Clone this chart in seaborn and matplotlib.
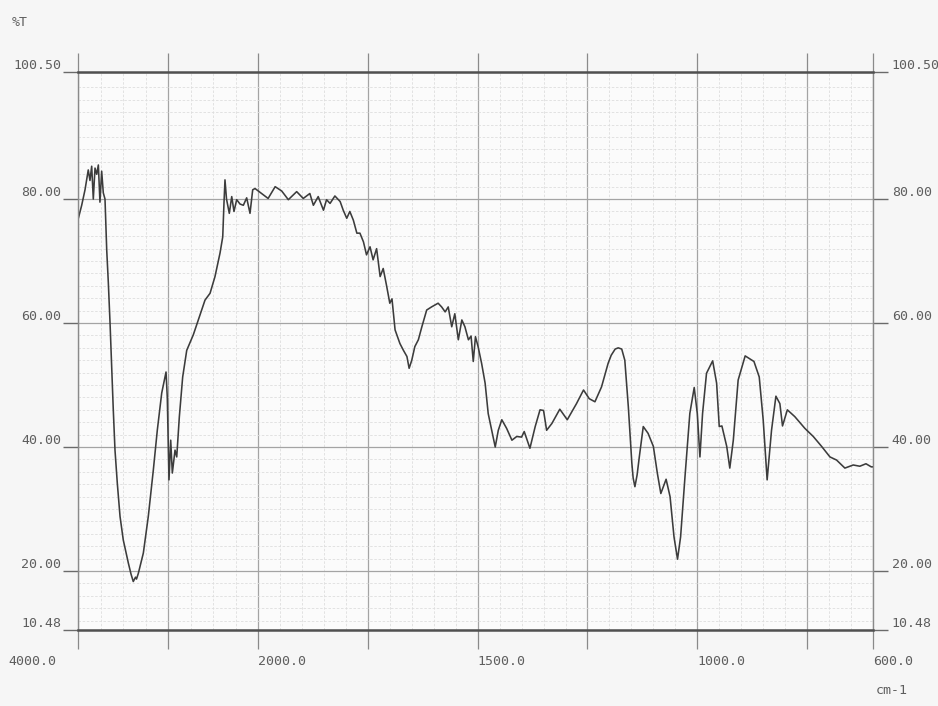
import numpy as np
import pandas as pd
import matplotlib
matplotlib.use("Agg")
import matplotlib.pyplot as plt
import matplotlib.transforms as mtransforms
import seaborn as sns

# IR transmittance spectrum: wavenumber (cm-1) and %T
wavenumber = [
    3996, 3959, 3922, 3886, 3867, 3848, 3830, 3811, 3792, 3774, 3756, 3737, 3719, 3700,
    3681, 3663, 3644, 3626, 3608, 3589, 3563, 3533, 3497, 3441, 3411, 3386, 3361, 3350,
    3330, 3274, 3219, 3163, 3119, 3070, 3022, 3008, 2989, 2970, 2952, 2922, 2903, 2874,
    2837, 2792, 2719, 2663, 2589, 2533, 2478, 2422, 2392, 2378, 2367, 2350, 2319, 2292,
    2267, 2237, 2200, 2163, 2126, 2089, 2059, 2033,
    1992, 1977, 1961, 1946, 1931, 1912, 1897, 1882, 1874, 1863, 1851, 1844, 1836, 1825,
    1813, 1806, 1798, 1791, 1783, 1775, 1768, 1760, 1753, 1745, 1738, 1730, 1722, 1715,
    1707, 1700, 1695, 1688, 1677, 1669, 1661, 1656, 1650, 1643, 1635, 1627, 1616, 1605,
    1590, 1582, 1574, 1567, 1559, 1552, 1544, 1536, 1529, 1521, 1515, 1510, 1505, 1499,
    1491, 1483, 1476, 1468, 1460, 1453, 1445, 1434, 1422, 1411, 1400, 1394, 1381, 1369,
    1358, 1350, 1343, 1331, 1313, 1296, 1275, 1259, 1246, 1233, 1218, 1203, 1196, 1187,
    1180, 1172, 1165, 1157, 1149, 1146, 1142, 1137, 1132, 1123, 1112, 1100, 1091, 1083,
    1071, 1062, 1053, 1045, 1038, 1028, 1017, 1007, 1000, 994, 988, 979, 965, 956, 950,
    944, 933, 926, 918, 907, 891, 871, 859, 850, 841, 831, 821, 812, 806, 795, 778, 755,
    736, 717, 698, 683, 664, 645, 630, 616, 604, 600,
]
transmittance = [
    76.9, 79.0, 81.5, 84.7, 83.0, 85.3, 80.0, 85.0, 84.0, 85.5, 79.5, 84.5, 81.0, 80.0,
    71.8, 66.5, 60.0, 53.0, 46.0, 39.5, 34.1, 28.8, 25.0, 21.3, 19.5, 18.3, 19.0, 18.7,
    19.6, 22.9, 28.8, 36.3, 42.7, 48.7, 52.1, 48.0, 34.7, 41.1, 35.8, 39.5, 38.4, 44.9,
    51.3, 55.6, 58.1, 60.5, 63.7, 64.8, 67.5, 71.3, 73.9, 79.4, 83.1, 80.0, 77.7, 80.4,
    78.0, 79.9, 79.2, 79.0, 80.2, 77.7, 81.5, 81.7,
    80.9, 80.1, 82.0, 81.3, 79.9, 81.2, 80.1, 80.9, 79.0, 80.4, 78.2, 79.9, 79.3, 80.5,
    79.6, 78.2, 76.9, 78.0, 76.6, 74.5, 74.5, 73.1, 71.0, 72.3, 70.2, 72.0, 67.5, 68.8,
    65.9, 63.2, 63.9, 58.9, 56.7, 55.6, 54.6, 52.7, 54.0, 56.2, 57.3, 59.4, 62.1, 62.6,
    63.2, 62.6, 61.8, 62.6, 59.4, 61.5, 57.3, 60.5, 59.4, 57.3, 57.9, 53.8, 57.8, 56.2,
    53.5, 50.3, 45.4, 42.7, 40.0, 42.7, 44.4, 43.0, 41.1, 41.7, 41.6, 42.5, 39.8, 43.3,
    46.0, 45.9, 42.7, 43.8, 46.1, 44.4, 47.0, 49.2, 47.8, 47.3, 49.7, 53.5, 54.8, 55.8,
    56.0, 55.8, 54.0, 46.5, 37.4, 35.0, 33.6, 35.5, 38.4, 43.3, 42.2, 40.1, 35.8, 32.5,
    34.8, 32.0, 25.5, 21.9, 25.5, 35.2, 45.4, 49.6, 45.4, 38.4, 45.4, 51.9, 53.9, 50.3, 43.3,
    43.4, 40.1, 36.6, 41.1, 50.8, 54.7, 53.8, 51.3, 44.4, 34.7, 42.7, 48.2, 47.0, 43.4, 46.0,
    44.9, 43.0, 41.7, 40.1, 38.4, 37.9, 36.6, 37.1, 36.9, 37.3, 36.8, 36.8,
]

x_major = [4000, 3000, 2000, 1750, 1500, 1250, 1000, 750, 600]
x_labels = {4000: "4000.0", 2000: "2000.0", 1500: "1500.0", 1000: "1000.0", 600: "600.0"}
y_ticks = [10.48, 20, 40, 60, 80, 100.5]
y_labels = ["10.48", "20.00", "40.00", "60.00", "80.00", "100.50"]

df = pd.DataFrame({"wn": wavenumber, "T": transmittance})

sns.set_style("white")
plt.rcParams["font.family"] = ["DejaVu Sans Mono", "DejaVu Sans"]

BG = "#f6f6f6"
TXT = "#5e5e5e"

fig = plt.figure(figsize=(9.38, 7.06), dpi=100, facecolor=BG)
W, H = 938, 706
ax = fig.add_axes([78 / W, 1 - 630 / H, (873 - 78) / W, (630 - 72) / H])
ax.set_facecolor("#fbfbfb")

# Split abscissa: 4000-2000 compressed relative to 2000-600
K = 0.2049


def fwd(x):
    x = np.asarray(x, dtype=float)
    return np.where(x > 2000, 2000 + (x - 2000) * K, x)


def inv(u):
    u = np.asarray(u, dtype=float)
    return np.where(u > 2000, 2000 + (u - 2000) / K, u)


ax.set_xscale("function", functions=(fwd, inv))
ax.set_xlim(4000, 600)
ax.set_ylim(10.48, 100.5)

# chart-paper grid
x_minor = [v for v in list(range(4000, 2000, -250)) + list(range(2000, 600, -50)) if v not in x_major]
y_minor = [v for v in range(12, 100, 2) if v not in (20, 40, 60, 80)]
ax.set_xticks(x_major)
ax.set_xticklabels([""] * len(x_major))
ax.set_xticks(x_minor, minor=True)
ax.set_yticks(y_ticks)
ax.set_yticklabels(y_labels)
ax.set_yticks(y_minor, minor=True)

ax.grid(which="major", color="#a4a4a4", lw=0.9)
ax.grid(which="minor", color="#dedede", lw=0.6, ls=(0, (3, 2)))
ax.set_axisbelow(True)

ax.tick_params(axis="x", which="major", direction="out", length=14, width=0.9,
               color="#8a8a8a", top=True, bottom=True, labelbottom=False)
ax.tick_params(axis="y", which="major", direction="out", length=11, width=1.0,
               color="#6a6a6a", left=True, right=True, labelleft=True, labelright=True,
               labelsize=9.5, labelcolor=TXT, pad=1)
ax.tick_params(which="minor", length=0)

shift_right = mtransforms.ScaledTranslation(2 / 100, 0, fig.dpi_scale_trans)
for t in ax.yaxis.get_major_ticks():
    t.label1.set_va("bottom")
    t.label2.set_va("bottom")
    t.label2.set_transform(t.label2.get_transform() + shift_right)

for side in ("left", "right"):
    ax.spines[side].set_color("#8a8a8a")
    ax.spines[side].set_linewidth(1.0)
for side in ("top", "bottom"):
    ax.spines[side].set_color("#505050")
    ax.spines[side].set_linewidth(1.8)

sns.lineplot(data=df, x="wn", y="T", sort=False, estimator=None, ax=ax,
             color="#3c3c3c", lw=1.15)
ax.set_xlabel("")
ax.set_ylabel("")

# x-axis value labels
trans = mtransforms.blended_transform_factory(ax.transData, ax.transAxes)
for v, s in x_labels.items():
    if v == 4000:
        tr = mtransforms.offset_copy(trans, fig=fig, x=-22, y=-25, units="dots")
        ax.text(v, 0, s, transform=tr, ha="right", va="top", fontsize=9.5, color=TXT)
    else:
        tr = mtransforms.offset_copy(trans, fig=fig, x=0, y=-25, units="dots")
        ax.text(v, 0, s, transform=tr, ha="left", va="top", fontsize=9.5, color=TXT)

fig.text(12 / W, 1 - 22 / H, "%T", fontsize=9.5, color=TXT, va="center", ha="left")
fig.text(876 / W, 1 - 690 / H, "cm-1", fontsize=9.5, color=TXT, va="center", ha="left")

fig.savefig("out.png", dpi=100, facecolor=BG)
